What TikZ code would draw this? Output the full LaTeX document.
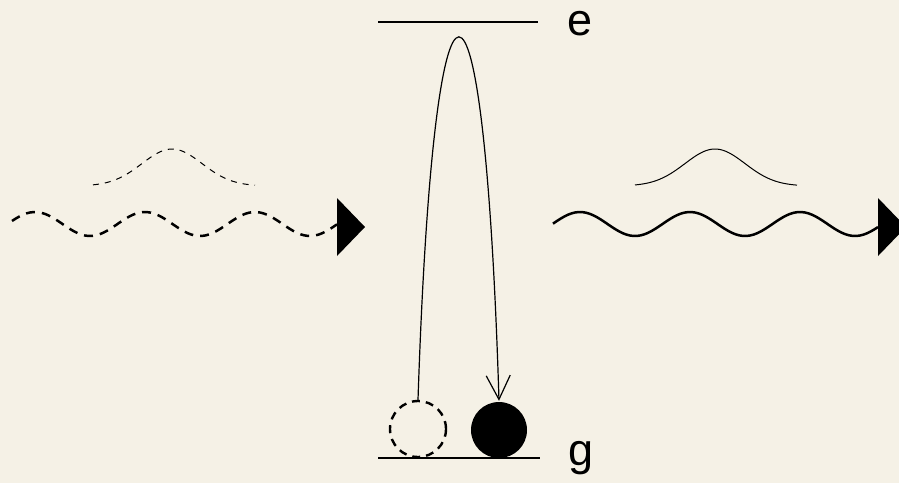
\documentclass[tikz,border=0pt]{standalone}
\usepackage{fontspec}
\setmainfont{Liberation Sans}
\usetikzlibrary{arrows.meta}
\definecolor{paper}{RGB}{245,241,230}

\begin{document}
\begin{tikzpicture}[x=1pt, y=-1pt,
  level/.style={line width=2.2pt},
  wave/.style={line width=2.5pt},
  pulse/.style={line width=1pt},
  atom/.style={circle, minimum size=56pt, inner sep=0pt, line width=2.4pt},
  lbl/.style={font=\fontsize{45}{48}\selectfont, anchor=base}]
  \fill[paper] (0,0) rectangle (899,483);
  \useasboundingbox (0,0) rectangle (899,483);

  % energy levels
  \draw[level] (378,22) -- (538,22);
  \draw[level] (378,458) -- (540,458);
  \node[lbl] (elabel) at (580,35) {e};
  \node[lbl] (glabel) at (581,465) {g};

  % atom before and after
  \node[atom, draw, dash pattern=on 8pt off 6pt] (ghost) at (418,429) {};
  \node[atom, fill=black] (atomg) at (499,430) {};
  \draw[line width=1.2pt, -{Straight Barb[length=24pt, width=24pt, line width=1.2pt]}]
    (ghost.north) .. controls (434,-84) and (484,-84) .. (atomg.north);

  % incoming photon
  \draw[pulse, dash pattern=on 6pt off 6pt] plot[domain=93:255, samples=60]
    (\x, {186-37*exp(-((\x-172)/30)^2/2)});
  \draw[wave, dash pattern=on 9pt off 7pt] plot[domain=12:337, samples=90]
    (\x, {224-12*cos(3.2727*(\x-35))});
  \fill (337,198) -- (365,227) -- (337,256) -- cycle;

  % outgoing photon
  \draw[pulse] plot[domain=635:797, samples=60]
    (\x, {186-37*exp(-((\x-715)/30)^2/2)});
  \draw[wave] plot[domain=553:878, samples=90]
    (\x, {224-12*cos(3.2727*(\x-580))});
  \fill (878,198) -- (906,227) -- (878,256) -- cycle;
\end{tikzpicture}
\end{document}
